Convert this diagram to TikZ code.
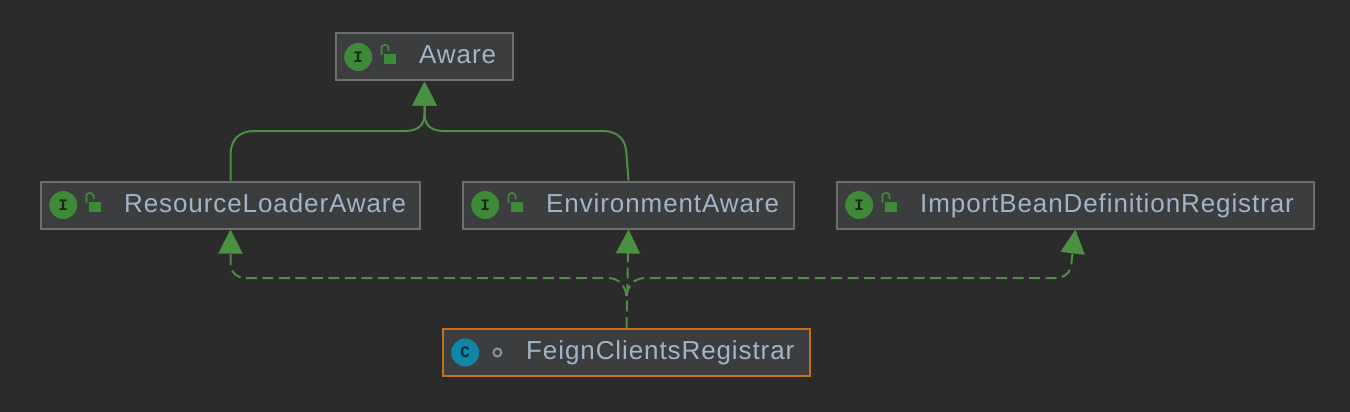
\documentclass[tikz,border=0pt]{standalone}
\usepackage{fontspec}
\setmainfont{Liberation Sans}
\newfontfamily\iconfont{Liberation Mono}
\usetikzlibrary{positioning,arrows.meta,calc}
\definecolor{canvasbg}{HTML}{2B2B2B}
\definecolor{boxfill}{HTML}{3C3D3E}
\definecolor{boxedge}{HTML}{6E6E6E}
\definecolor{nameblue}{HTML}{A2B4C8}
\definecolor{linkgreen}{HTML}{4B9142}
\definecolor{ifacegreen}{HTML}{3F8A38}
\definecolor{classteal}{HTML}{0F86A6}
\definecolor{pickorange}{HTML}{C46F1E}
\definecolor{ringgrey}{HTML}{8A949C}
\tikzset{
  typebox/.style={draw=boxedge, fill=boxfill, line width=2pt, minimum height=47pt, inner sep=0pt},
  typename/.style={text=nameblue, font=\fontsize{26}{26}\selectfont\addfontfeature{LetterSpace=3.5}, inner sep=0pt, text height=19pt, text depth=5pt, anchor=west},
  typeicon/.style={circle, minimum size=28pt, inner sep=0pt, text=black!70!ifacegreen, font=\fontsize{16}{16}\iconfont\bfseries},
  extends/.style={draw=linkgreen, line width=2pt, -{Triangle[length=24pt,width=24pt]}},
  implements/.style={extends, dash pattern=on 11pt off 5.5pt},
  unlocked/.pic={
    \fill[ifacegreen] (0,0) rectangle (12,10);
    \draw[ifacegreen, line width=1.7pt, rounded corners=3pt] (-3,1) -- (-3,-9) -- (4,-9) -- (4,-3);
  }
}
\begin{document}
\begin{tikzpicture}[x=1pt,y=-1pt]
 \useasboundingbox[fill=canvasbg] (0,0) rectangle (1350,412);
 % boxes
 \node[typebox, minimum width=177pt] (aware) at (424.5,57) {};
 \node[typebox, minimum width=379pt] (loader) at (230.5,205) {};
 \node[typebox, minimum width=331pt, right=41pt of loader] (env) {};
 \node[typebox, minimum width=477pt, right=41pt of env] (import) {};
 \node[typebox, minimum width=367pt, draw=pickorange] (feign) at (626.5,352.5) {};
 % names
 \node[typename, right=84pt of aware.west] (awarename) {Aware};
 \node[typename, right=84pt of loader.west] (loadername) {ResourceLoaderAware};
 \node[typename, right=84pt of env.west] (envname) {EnvironmentAware};
 \node[typename, right=84pt of import.west] (importname) {ImportBeanDefinitionRegistrar};
 \node[typename, right=84pt of feign.west] (feignname) {FeignClientsRegistrar};
 % icons
 \node[typeicon, fill=ifacegreen, right=9pt of aware.west] (awareicon) {I};
 \node[typeicon, fill=ifacegreen, right=9pt of loader.west] (loadericon) {I};
 \node[typeicon, fill=ifacegreen, right=9pt of env.west] (envicon) {I};
 \node[typeicon, fill=ifacegreen, right=9pt of import.west] (importicon) {I};
 \node[typeicon, fill=classteal, text=black!65!classteal, right=9pt of feign.west] (feignicon) {C};
 \node[circle, draw=ringgrey, line width=2pt, minimum size=8pt, inner sep=0pt, right=13pt of feignicon] (feignring) {};
 \path (awareicon.east) ++(12,-3) pic {unlocked};
 \path (loadericon.east) ++(12,-3) pic {unlocked};
 \path (envicon.east) ++(12,-3) pic {unlocked};
 \path (importicon.east) ++(12,-3) pic {unlocked};
 % turning points
 \coordinate (merge) at (626.5,296);
 % extends
 \draw[extends] (loader.north) -- (230.5,155) .. controls (230.5,140) and (239,131) .. (254,131)
   -- (405,131) .. controls (417,131) and (424,126) .. (424.5,115) -- (aware.south);
 \draw[extends] (env.north) -- (626.5,155) .. controls (626.5,140) and (618,131) .. (603,131)
   -- (444,131) .. controls (432,131) and (425,126) .. (424.5,115) -- (aware.south);
 % implements
 \draw[implements] (merge) .. controls (625,286) and (620,278) .. (607,278) -- (246,278)
   .. controls (236,278) and (230.5,272) .. (230.5,262) -- (loader.south);
 \draw[implements] (merge) .. controls (628,286) and (633,278) .. (646,278) -- (1055,278)
   .. controls (1065,278) and (1071.5,272) .. (1071.5,262) -- (import.south);
 \draw[implements] (feign.north) -- (env.south);
\end{tikzpicture}
\end{document}
